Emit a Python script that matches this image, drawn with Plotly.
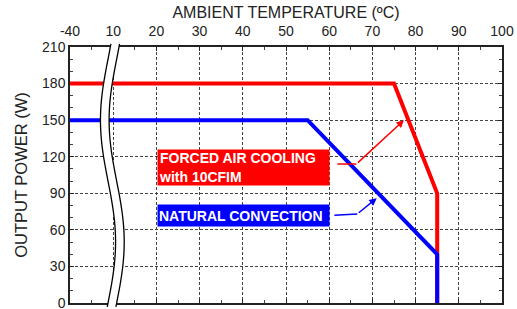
import numpy as np
import plotly.graph_objects as go

# ---- data ----
x_tick_labels = ["-40", "10", "20", "30", "40", "50", "60", "70", "80", "90", "100"]
y_tick_values = [0, 30, 60, 90, 120, 150, 180, 210]

forced_temp = [-40, 75, 85, 85]
forced_power = [180, 180, 90, 0]
natural_temp = [-40, 55, 85, 85]
natural_power = [150, 150, 40, 0]

forced_label = "FORCED AIR COOLING<br>with 10CFIM"
natural_label = "NATURAL CONVECTION"


def axis_pos(t):
    """Broken axis: -40 C sits one division left of 10 C."""
    return [0 if v <= -40 else v for v in t]


RED = "#ff0000"
BLUE = "#0000ff"
FONT = "Liberation Sans, Arial"

fig = go.Figure()
fig.add_trace(go.Scatter(x=axis_pos(forced_temp), y=forced_power, mode="lines",
                         line=dict(color=RED, width=4), hoverinfo="skip"))
fig.add_trace(go.Scatter(x=axis_pos(natural_temp), y=natural_power, mode="lines",
                         line=dict(color=BLUE, width=4), hoverinfo="skip"))

# leader lines for the labels
fig.add_trace(go.Scatter(x=[61.9, 66.3], y=[114, 114], mode="lines",
                         line=dict(color=RED, width=1.5), hoverinfo="skip"))
fig.add_trace(go.Scatter(x=[61.2, 66.5], y=[72, 73], mode="lines",
                         line=dict(color=BLUE, width=1.5), hoverinfo="skip"))

# ---- axis-break band (decorative) ----
yy = np.linspace(-0.015, 1.012, 60)
P = yy * 210
center = 9.8 - 1.75 * np.cos(np.pi * (P - 150) / 100)
half = 1.0
left = center - half
right = center + half


def path_of(xs, ys, close=False):
    s = "M " + " L ".join(f"{a:.3f},{b:.4f}" for a, b in zip(xs, ys))
    return s + (" Z" if close else "")


band = path_of(np.concatenate([left, right[::-1]]), np.concatenate([yy, yy[::-1]]), close=True)
shapes = [
    dict(type="path", xref="x", yref="paper", path=band, fillcolor="white",
         line=dict(width=0), layer="above"),
    dict(type="path", xref="x", yref="paper", path=path_of(left, yy),
         line=dict(color="black", width=1.3), layer="above"),
    dict(type="path", xref="x", yref="paper", path=path_of(right, yy),
         line=dict(color="black", width=1.3), layer="above"),
]

annotations = [
    dict(x=20.1, y=111.5, xref="x", yref="y", xanchor="left", yanchor="middle",
         text="<b>" + forced_label + "</b>", align="left", showarrow=False,
         bgcolor=RED, width=169, height=33, borderpad=1,
         font=dict(color="white", size=14, family=FONT)),
    dict(x=20.1, y=71.5, xref="x", yref="y", xanchor="left", yanchor="middle",
         text="<b>" + natural_label + "</b>", align="left", showarrow=False,
         bgcolor=BLUE, width=169, height=19, borderpad=1,
         font=dict(color="white", size=14, family=FONT)),
    dict(x=77.3, y=150, xref="x", yref="y", ax=66.3, ay=114, axref="x", ayref="y",
         text="", showarrow=True, arrowhead=2, arrowsize=1, arrowwidth=1.5,
         arrowcolor=RED),
    dict(x=71.0, y=86, xref="x", yref="y", ax=66.5, ay=73, axref="x", ayref="y",
         text="", showarrow=True, arrowhead=2, arrowsize=1, arrowwidth=1.5,
         arrowcolor=BLUE),
]

grid = dict(showgrid=True, gridcolor="#444", griddash="3px,2px", gridwidth=1)
tickfont = dict(family=FONT, size=14, color="#222")

fig.update_layout(
    width=517, height=309,
    margin=dict(l=70, r=15, t=47, b=6),
    paper_bgcolor="white", plot_bgcolor="white",
    showlegend=False,
    shapes=shapes, annotations=annotations,
    font=tickfont,
    xaxis=dict(side="top", range=[0, 100], tickmode="array",
               tickvals=[0, 10, 20, 30, 40, 50, 60, 70, 80, 90, 100],
               ticktext=x_tick_labels, tickfont=tickfont, automargin=False,
               ticklabelstandoff=4, ticklabeloverflow="allow",
               showline=True, linecolor="#222", linewidth=1.5, mirror="ticks",
               ticks="inside", ticklen=4, tickcolor="#222",
               minor=dict(ticks="inside", ticklen=3, dtick=5, tick0=0, tickcolor="#444"),
               zeroline=False, layer="below traces",
               title=dict(text="AMBIENT TEMPERATURE (ºC)", standoff=0,
                          font=dict(family=FONT, size=16, color="#222")),
               **grid),
    yaxis=dict(range=[0, 210], tickmode="array", tickvals=y_tick_values,
               tickfont=tickfont, automargin=False, ticklabeloverflow="allow",
               showline=True, linecolor="#222", linewidth=1.5, mirror="ticks",
               ticks="inside", ticklen=4, tickcolor="#222",
               minor=dict(ticks="inside", ticklen=3, dtick=10, tick0=0, tickcolor="#444"),
               zeroline=False, layer="below traces",
               title=dict(text="OUTPUT POWER (W)", standoff=10,
                          font=dict(family=FONT, size=16.5, color="#222")),
               **grid),
)

fig.write_html("out.html", config={"displayModeBar": False},
               post_script="document.body.style.margin='0';document.body.style.overflow='hidden';")
